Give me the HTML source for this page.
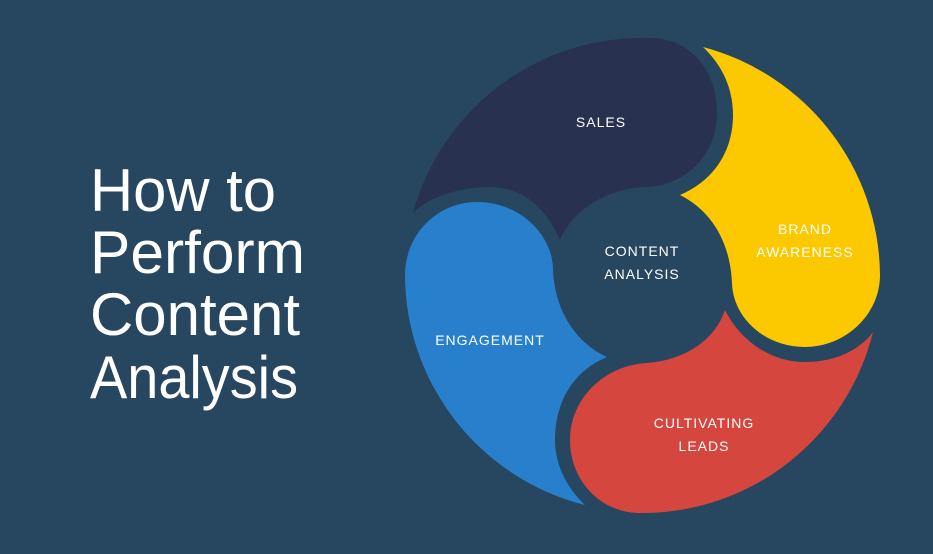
<!DOCTYPE html>
<html><head><meta charset="utf-8"><style>
html,body{margin:0;padding:0;background:#27465f;}
svg{display:block}
</style></head><body>
<svg width="933" height="554" viewBox="0 0 933 554" xmlns="http://www.w3.org/2000/svg">
<rect width="933" height="554" fill="#27465f"/>
<!-- Sales -->
<path fill="#283150" d="M413,213 A238 238 0 0 1 650,38 C690,38 717,70 717,113 C717,155 685,187 643,187 C600,190 570,215 560,240 C545,205 520,187 490,187 C455,187 425,200 413,213 Z"/>
<!-- Brand awareness -->
<path fill="#fcc800" d="M703,47 A238 238 0 0 1 880,275 C880,315 845,347 805,347 C765,347 733,318 732,283 C730,240 710,210 680,195 C715,180 733,150 733,115 C733,88 722,65 703,47 Z"/>
<!-- Cultivating leads -->
<path fill="#d4463e" d="M873,332 A238 238 0 0 1 640,513 C600,513 570,480 570,440 C570,398 605,365 647,363 C685,360 715,340 725,310 C740,340 770,362 805,362 C835,362 860,350 873,332 Z"/>
<!-- Engagement -->
<path fill="#2880cc" d="M585,505 A238 238 0 0 1 405,275 C405,235 437,202 477,202 C520,202 553,235 553,270 C555,315 580,345 607,357 C575,370 555,400 555,440 C555,465 567,488 585,505 Z"/>
<g font-family="Liberation Sans, sans-serif" fill="#fff" font-size="14" letter-spacing="1" text-anchor="middle">
<text x="601" y="127">SALES</text>
<text x="805" y="234">BRAND</text>
<text x="805" y="257">AWARENESS</text>
<text x="642" y="256">CONTENT</text>
<text x="642" y="279">ANALYSIS</text>
<text x="490" y="345">ENGAGEMENT</text>
<text x="704" y="428">CULTIVATING</text>
<text x="704" y="451">LEADS</text>
</g>
<g font-family="Liberation Sans, sans-serif" fill="#fff" font-size="60">
<text x="90" y="211" textLength="186" lengthAdjust="spacingAndGlyphs">How to</text>
<text x="90" y="273" textLength="215" lengthAdjust="spacingAndGlyphs">Perform</text>
<text x="90" y="335" textLength="210" lengthAdjust="spacingAndGlyphs">Content</text>
<text x="90" y="398" textLength="208" lengthAdjust="spacingAndGlyphs">Analysis</text>
</g>
</svg>
</body></html>
